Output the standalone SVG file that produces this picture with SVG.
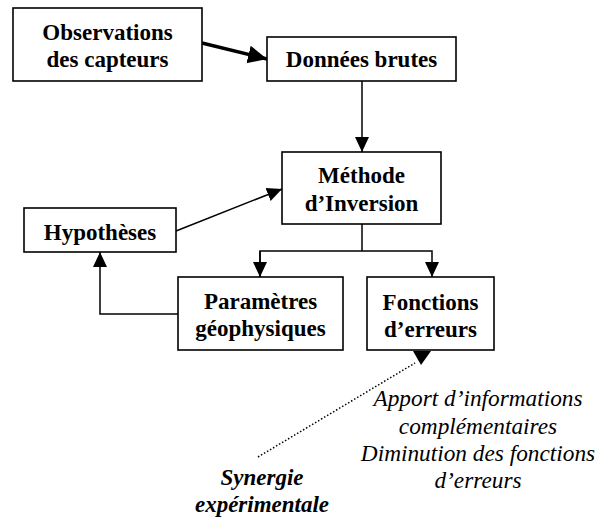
<svg xmlns="http://www.w3.org/2000/svg" width="597" height="519" viewBox="0 0 597 519">
<style>
.box{fill:#fff;stroke:#000;stroke-width:1.6}
.t{font-family:"Liberation Serif","Times New Roman",serif;font-weight:bold;font-size:23px;text-anchor:middle;fill:#000}
.it{font-family:"Liberation Serif","Times New Roman",serif;font-style:italic;font-size:23.3px;text-anchor:middle;fill:#000}
.bi{font-family:"Liberation Serif","Times New Roman",serif;font-style:italic;font-weight:bold;font-size:23px;text-anchor:middle;fill:#000}
.c{fill:none;stroke:#000;stroke-width:1.5}
</style>
<defs>
<marker id="ah" markerUnits="userSpaceOnUse" markerWidth="16" markerHeight="16" viewBox="0 0 16 14" refX="15" refY="7" orient="auto">
<path d="M0,0 L15,7 L0,14 Z" fill="#000"/>
</marker>
<marker id="ahb" markerUnits="userSpaceOnUse" markerWidth="20" markerHeight="20" viewBox="0 0 20 18" refX="19" refY="9" orient="auto">
<path d="M0,0 L19,9 L0,18 Z" fill="#000"/>
</marker>
</defs>
<g id="connectors">
<line x1="202" y1="43" x2="267" y2="59" stroke="#000" stroke-width="3.5" marker-end="url(#ahb)"/>
<line class="c" x1="362" y1="81" x2="362" y2="152" marker-end="url(#ah)"/>
<line class="c" x1="176" y1="231" x2="282" y2="189" marker-end="url(#ah)"/>
<polyline class="c" points="362,224 362,251"/>
<polyline class="c" points="260,277 260,251 432,251 432,277" marker-end="url(#ah)"/>
<polyline class="c" points="260,251 260,277" marker-end="url(#ah)"/>
<polyline class="c" points="178,314 100,314 100,252" marker-end="url(#ah)"/>
<line x1="258" y1="457" x2="415" y2="363" stroke="#000" stroke-width="1.5" stroke-dasharray="1.5,2"/>
<polygon points="413,351 431,351 421,365" fill="#000"/>
</g>
<g id="observations">
<rect class="box" x="13" y="8" width="189" height="73"/>
<text class="t" x="107.5" y="39.5">Observations</text>
<text class="t" x="107.5" y="66.5">des capteurs</text>
</g>
<g id="donnees">
<rect class="box" x="267" y="37" width="189" height="44"/>
<text class="t" x="361.5" y="67">Données brutes</text>
</g>
<g id="methode">
<rect class="box" x="282" y="152" width="159" height="72"/>
<text class="t" x="361.5" y="182.5">Méthode</text>
<text class="t" x="361.5" y="211">d’Inversion</text>
</g>
<g id="hypotheses">
<rect class="box" x="24" y="208" width="152" height="44"/>
<text class="t" x="100" y="239.5">Hypothèses</text>
</g>
<g id="parametres">
<rect class="box" x="178" y="277" width="165" height="73"/>
<text class="t" x="260.5" y="308.5">Paramètres</text>
<text class="t" x="260.5" y="335.5">géophysiques</text>
</g>
<g id="fonctions">
<rect class="box" x="367" y="277" width="127" height="73"/>
<text class="t" x="430.5" y="309.5">Fonctions</text>
<text class="t" x="430.5" y="337">d’erreurs</text>
</g>
<g id="apport">
<text class="it" x="478" y="406">Apport d’informations</text>
<text class="it" x="478" y="433.5">complémentaires</text>
<text class="it" x="478" y="460.5">Diminution des fonctions</text>
<text class="it" x="478" y="488">d’erreurs</text>
</g>
<g id="synergie">
<text class="bi" x="262" y="485">Synergie</text>
<text class="bi" x="262" y="512">expérimentale</text>
</g>
</svg>
